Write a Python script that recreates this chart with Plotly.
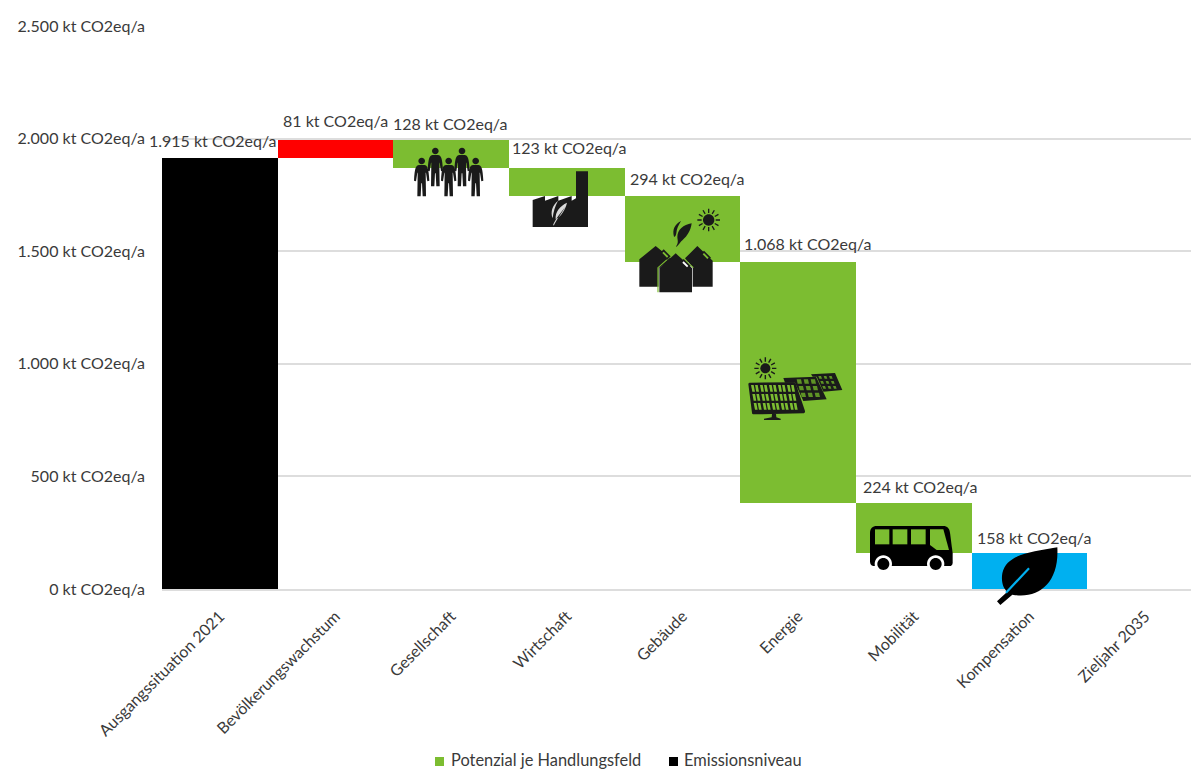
import math
import re
import plotly.graph_objects as go

# Emissions pathway, kt CO2eq per year
categories = ["Ausgangssituation 2021", "Bevölkerungswachstum", "Gesellschaft", "Wirtschaft",
              "Gebäude", "Energie", "Mobilität", "Kompensation", "Zieljahr 2035"]
changes = [1915, 81, -128, -123, -294, -1068, -224, -158, 0]
legend_names = ["Potenzial je Handlungsfeld", "Emissionsniveau"]

GREEN = "#7CBD31"
BLUE = "#00B0F0"
RED = "#FF0000"
BLACK = "#000000"
ICON = "#1A1A1A"
TEXT = "#3A3A3A"
FONT = "Lato"
bar_colors = [BLACK, RED, GREEN, GREEN, GREEN, GREEN, GREEN, BLUE, BLACK]

# Page geometry of the plot area
W, H = 1191, 769
LEFT, RIGHT, TOP, BOTTOM = 162, 1191, 26, 589

bases, heights, tops = [], [], []
level = 0
for delta in changes:
    new_level = level + delta
    bases.append(min(level, new_level))
    heights.append(abs(delta))
    tops.append(max(level, new_level))
    level = new_level

# Label offsets above each bar top, in pixels
label_dx = [-7, 0, -1, 2, 4, 9, 6, 4, 0]
label_dy = [6, 8, 5, 9, 6, 7, 5, 4, 0]


def to_paper(path, ox, oy, s=1.0):
    """Map an SVG path given in local pixels to paper coordinates of the plot area."""
    nums = iter(re.findall(r"[A-Za-z]|-?\d+\.?\d*", path))
    out = []
    for tok in nums:
        if tok.isalpha():
            out.append(tok)
        else:
            x = float(tok)
            y = float(next(nums))
            px = ox + x * s
            py = oy + y * s
            out.append(f"{(px - LEFT) / (RIGHT - LEFT):.5f},{(BOTTOM - py) / (BOTTOM - TOP):.5f}")
    return " ".join(out)


def circle(cx, cy, r):
    k = 0.5523 * r
    return (f"M {cx - r} {cy} C {cx - r} {cy - k} {cx - k} {cy - r} {cx} {cy - r} "
            f"C {cx + k} {cy - r} {cx + r} {cy - k} {cx + r} {cy} "
            f"C {cx + r} {cy + k} {cx + k} {cy + r} {cx} {cy + r} "
            f"C {cx - k} {cy + r} {cx - r} {cy + k} {cx - r} {cy} Z")


def rays(cx, cy, r0, r1, n=12):
    parts = []
    for i in range(n):
        a = 2 * math.pi * i / n
        parts.append(f"M {cx + r0 * math.cos(a):.1f} {cy + r0 * math.sin(a):.1f} "
                     f"L {cx + r1 * math.cos(a):.1f} {cy + r1 * math.sin(a):.1f}")
    return " ".join(parts)


shapes = []


def add_fill(path, ox, oy, s=1 / 3, color=ICON):
    shapes.append(dict(type="path", xref="paper", yref="paper", layer="above",
                       path=to_paper(path, ox, oy, s), fillcolor=color, line=dict(width=0)))


def add_line(path, ox, oy, s=1 / 3, color=ICON, width=1.0):
    shapes.append(dict(type="path", xref="paper", yref="paper", layer="above",
                       path=to_paper(path, ox, oy, s), line=dict(color=color, width=width)))


# People icon
PERSON = ("M -8 13 L 8 13 C 17 15 21 20 23 60 L 17 62 L 13 36 L 12 36 L 13 107 L 3 107 L 1 68 "
          "L -1 68 L -3 107 L -13 107 L -12 36 L -13 36 L -17 62 L -23 60 C -21 20 -17 15 -8 13 Z")
for hx, hy in [(95, 93), (136, 63), (176, 93), (216, 63), (257, 93)]:
    add_fill(circle(hx, hy, 10), 390, 130)
    add_fill(PERSON, 390 + hx / 3, 130 + (hy - 1) / 3)

# Factory icon with a leaf cut-out
add_fill("M 428 291 L 428 210 L 465 198 L 465 212 L 505 198 L 505 212 L 545 198 L 545 212 "
         "L 558 205 L 558 124 L 594 124 L 594 291 Z", 390, 130)
add_fill("M 531 218 C 510 228 495 245 497 268 C 512 260 526 240 531 218 Z "
         "M 504 212 C 488 225 480 245 488 265 C 490 245 495 230 504 212 Z "
         "M 489 286 C 495 270 505 258 525 232 C 510 258 498 272 492 286 Z",
         390, 130, color="#DADADA")

# Houses, sun and leaves
add_fill("M 748 470 L 748 388 L 797 348 L 846 388 L 806 415 L 806 470 Z", 390, 130)
add_fill("M 908 412 L 885 385 L 922 348 L 968 392 L 968 470 L 908 470 Z", 390, 130)
add_line("M 804 487 L 804 413 L 857 366 L 910 413", 390, 130, color=GREEN, width=1.2)
add_fill("M 808 487 L 808 414 L 857 370 L 906 414 L 906 487 Z", 390, 130)
for cx, cy, inner in [(826, 374, GREEN), (886, 403, "#FFFFFF"), (947, 378, GREEN)]:
    add_fill(f"M {cx - 16} {cy - 5} L {cx - 5} {cy - 16} L {cx + 16} {cy + 5} L {cx + 5} {cy + 16} Z", 390, 130)
    add_fill(f"M {cx - 9} {cy - 5} L {cx - 5} {cy - 9} L {cx + 9} {cy + 5} L {cx + 5} {cy + 9} Z", 390, 130,
             color=inner)
add_fill(circle(956, 270, 17), 390, 130)
add_line(rays(956, 270, 21, 34), 390, 130, width=1.3)
add_fill("M 905 280 C 880 285 862 298 862 322 C 863 332 866 340 858 349 L 860 350 "
         "C 868 342 872 335 878 330 C 892 318 902 302 905 280 Z "
         "M 873 273 C 855 283 846 298 852 320 C 855 322 858 316 859 310 C 860 295 866 285 873 273 Z",
         390, 130)

# Solar panels and sun
panel_outlines = [
    "M 213 103 L 285 99 L 307 150 L 250 155 L 230 110 L 218 110 Z",
    "M 130 114 L 228 110 L 260 178 L 190 183 L 165 128 L 135 128 Z",
    "M 25 132 C 25 129 28 128 31 128 L 160 127 C 165 127 167 130 168 133 L 195 213 "
    "C 196 217 193 220 190 220 L 42 223 C 38 223 36 221 36 218 Z",
]
for outline in panel_outlines:
    add_fill(outline, 740, 340, color=ICON)
# Cells of the front panel, laid out on the panel's skewed grid
for r in range(3):
    for c in range(5):
        x0 = 33 + c * 27 + r * 4
        y0 = 135 + r * 27
        add_fill(f"M {x0} {y0} L {x0 + 20} {y0} L {x0 + 24} {y0 + 20} L {x0 + 4} {y0 + 20} Z", 740, 340,
                 color=GREEN)
        add_fill(f"M {x0 + 8} {y0 - 1} L {x0 + 12} {y0 - 1} L {x0 + 16} {y0 + 21} L {x0 + 12} {y0 + 21} Z",
                 740, 340, color=ICON)
for ox0, oy0, n, m, dx, dy in [(170, 118, 3, 3, 21, 20), (235, 108, 3, 3, 16, 15)]:
    for r in range(m):
        for c in range(n):
            x0 = ox0 + c * dx + r * 6
            y0 = oy0 + r * dy
            add_fill(f"M {x0} {y0} L {x0 + dx - 8} {y0} L {x0 + dx - 5} {y0 + dy - 7} L {x0 + 3} {y0 + dy - 7} Z",
                     740, 340, color="#5E9325")
add_fill("M 96 222 L 108 222 L 109 232 L 122 236 L 122 240 L 72 240 L 72 236 L 95 232 Z", 740, 340)
add_fill(circle(76, 85, 15), 740, 340)
add_line(rays(76, 85, 20, 33), 740, 340, width=1.4)

# Bus
add_fill("M 60 214 L 60 128 C 60 115 68 108 80 108 L 280 108 C 292 108 298 115 300 128 L 308 190 "
         "L 308 218 C 308 225 304 228 298 228 L 70 228 C 63 228 60 222 60 214 Z", 850, 490, color=BLACK)
for x0, x1 in [(75, 118), (128, 172), (183, 227)]:
    add_fill(f"M {x0} 118 L {x1} 118 L {x1} 163 L {x0} 163 Z", 850, 490, color=GREEN)
add_fill("M 240 118 L 280 118 L 297 180 L 260 180 L 240 165 Z", 850, 490, color=GREEN)
for wx in (100, 257):
    add_fill(circle(wx, 222, 26), 850, 490, color="#FFFFFF")
    add_fill(circle(wx, 222, 18), 850, 490, color=BLACK)

# Leaf
add_fill("M 622 172 C 545 187 470 190 457 250 C 452 280 463 298 472 305 L 441 334 L 451 345 L 487 314 "
         "C 565 328 628 280 622 172 Z", 850, 490, color=BLACK)
add_line("M 468 308 L 537 235", 850, 490, color=BLUE, width=2.2)

# Legend keys
legend_keys = [(435, 444, GREEN), (669, 678, BLACK)]
for x0, x1, color in legend_keys:
    add_fill(f"M {x0} 757 L {x1} 757 L {x1} 766 L {x0} 766 Z", 0, 0, s=1, color=color)

fig = go.Figure(go.Bar(
    x=list(range(len(categories))), y=heights, base=bases, width=1.0,
    marker=dict(color=bar_colors, line=dict(width=0)), showlegend=False, hoverinfo="skip",
))

annotations = []
for i, delta in enumerate(changes[:-1]):
    annotations.append(dict(
        x=i, y=tops[i], xref="x", yref="y", yanchor="bottom", showarrow=False,
        text=f"{abs(delta):,} kt CO2eq/a".replace(",", "."), xshift=label_dx[i], yshift=label_dy[i],
        font=dict(family=FONT, size=16, color=TEXT),
    ))
for name, x in zip(legend_names, (449, 682)):
    annotations.append(dict(
        x=(x - LEFT) / (RIGHT - LEFT), y=(BOTTOM - 759) / (BOTTOM - TOP), xref="paper", yref="paper",
        xanchor="left", yanchor="middle", showarrow=False, text=name,
        font=dict(family=FONT, size=16.4, color=TEXT),
    ))

fig.update_layout(
    width=W, height=H, margin=dict(l=LEFT, r=W - RIGHT, t=TOP, b=H - BOTTOM, autoexpand=False),
    paper_bgcolor="#FFFFFF", plot_bgcolor="#FFFFFF", bargap=0, separators=",.",
    font=dict(family=FONT, size=16, color=TEXT), showlegend=False,
    shapes=shapes, annotations=annotations,
    xaxis=dict(range=[-0.5, 8.396], tickmode="array", tickvals=list(range(len(categories))),
               ticktext=categories, tickangle=-45, showgrid=False, zeroline=False,
               showline=True, linecolor="#DDDDDD", linewidth=1.5, ticks="", ticklabelstandoff=10),
    yaxis=dict(range=[0, 2500], tickmode="linear", tick0=0, dtick=500, tickformat=",d",
               ticksuffix=" kt CO2eq/a", showgrid=True, gridcolor="#DDDDDD", gridwidth=1.5,
               zeroline=False, showline=False, ticks="", ticklabelstandoff=16),
)

fig.write_html("out.html")
